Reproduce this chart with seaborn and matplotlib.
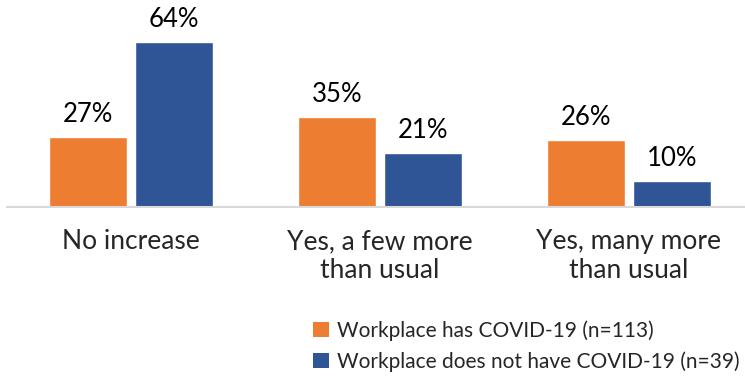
import matplotlib
matplotlib.use("Agg")
import matplotlib.pyplot as plt
import seaborn as sns
import pandas as pd

categories = ["No increase", "Yes, a few more\nthan usual", "Yes, many more\nthan usual"]
series_names = ["Workplace has COVID-19 (n=113)", "Workplace does not have COVID-19 (n=39)"]
has_covid = [27, 35, 26]
no_covid = [64, 21, 10]
colors = ["#ED7D31", "#2F5597"]

df = pd.DataFrame({
    "category": categories * 2,
    "series": [series_names[0]] * 3 + [series_names[1]] * 3,
    "value": has_covid + no_covid,
})

sns.set_style("white")
plt.rcParams["font.family"] = ["Lato", "DejaVu Sans"]

fig = plt.figure(figsize=(7.45, 3.81), dpi=100)
ax = fig.add_axes([6.5 / 745, (381 - 207) / 381, 747 / 745, 181 / 381])
sns.barplot(data=df, x="category", y="value", hue="series", palette=colors,
            width=0.69, gap=0.085, ax=ax, legend=False, saturation=1)
ax.set_ylim(0, 70)
ax.set_xlim(-0.5, 2.5)
ax.set_xlabel("")
ax.set_ylabel("")
ax.set_yticks([])
for s in ["top", "right", "left"]:
    ax.spines[s].set_visible(False)
ax.spines["bottom"].set_color("#D9D9D9")
ax.spines["bottom"].set_linewidth(1.5)
ax.tick_params(axis="x", length=0, pad=16, labelsize=19)
for lab in ax.get_xticklabels():
    lab.set_linespacing(1.2)

for cont in ax.containers:
    ax.bar_label(cont, labels=[f"{v:.0f}%" for v in cont.datavalues],
                 padding=7, fontsize=18.5, color="#000000")

from matplotlib.patches import Patch
handles = [Patch(facecolor=c, edgecolor="none") for c in colors]
fig.legend(handles, series_names, loc="upper left",
           bbox_to_anchor=(313 / 745, 1 - 320 / 381), frameon=False,
           fontsize=15, handlelength=0.75, handleheight=0.75,
           handletextpad=0.4, labelspacing=0.5, borderaxespad=0, borderpad=0)

fig.savefig("out.png", dpi=100)
